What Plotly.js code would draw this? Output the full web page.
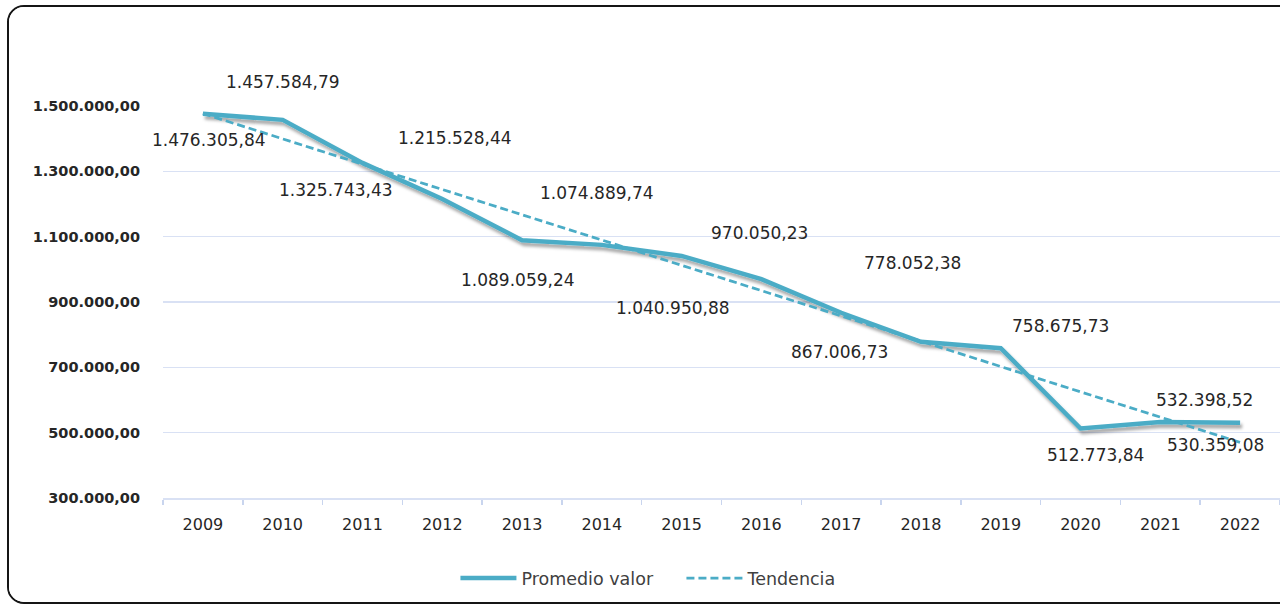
<!DOCTYPE html>
<html>
<head>
<meta charset="utf-8">
<script src="https://cdn.plot.ly/plotly-3.0.1.min.js"></script>
<style>
  html, body { margin: 0; padding: 0; background: #ffffff; overflow: hidden; }
  #frame {
    position: absolute; left: 7px; top: 5px;
    width: 1290px; height: 595px;
    border: 2px solid #151515; border-radius: 17px;
    overflow: hidden; background: #ffffff;
  }
  #chart { width: 1290px; height: 595px; }
</style>
</head>
<body>
<div id="frame"><div id="chart"></div></div>
<script>
// ---- data ----
const years = ['2009','2010','2011','2012','2013','2014','2015','2016','2017','2018','2019','2020','2021','2022'];
const promedioValor = [1476305.84, 1457584.79, 1325743.43, 1215528.44, 1089059.24, 1074889.74, 1040950.88,
                       970050.23, 867006.73, 778052.38, 758675.73, 512773.84, 532398.52, 530359.08];
const trendYears = ['2009', '2022'];
const tendencia = [1476900, 470100];
const yTicks = [300000, 500000, 700000, 900000, 1100000, 1300000, 1500000];
const seriesNames = ['Promedio valor', 'Tendencia'];

// label offsets (pixels) – styling only
const labelDx = [6, 0, -26, 13, -4, -5, -9, -2, -2, -8, 60, 15, 44, -25];
const labelDy = [-26, 38, -27, 61, -40, 52, -52, 46, -39, 79, 22, -27, 22, -22];

function fmt(v) {
  const parts = v.toFixed(2).split('.');
  return parts[0].replace(/\B(?=(\d{3})+(?!\d))/g, '.') + ',' + parts[1];
}

const teal = '#4BACC6';
const gridCol = '#D9E1F4';
const textCol = '#262626';

const traces = [
  {
    x: years, y: promedioValor, type: 'scatter', mode: 'lines',
    name: seriesNames[0],
    line: { color: teal, width: 4.5, shape: 'linear' },
    hoverinfo: 'skip'
  },
  {
    x: trendYears, y: tendencia, type: 'scatter', mode: 'lines',
    name: seriesNames[1],
    line: { color: teal, width: 2.75, dash: '8px,4px' },
    hoverinfo: 'skip'
  }
];

// annotations on a category axis: x given as the category index
const annotations = years.map((yr, i) => ({
  x: years.indexOf(yr), y: promedioValor[i], xref: 'x', yref: 'y',
  text: fmt(promedioValor[i]), showarrow: false,
  xshift: labelDx[i], yshift: labelDy[i],
  font: { family: 'DejaVu Sans', size: 17, color: textCol }
}));

const layout = {
  width: 1290, height: 595,
  paper_bgcolor: '#ffffff', plot_bgcolor: '#ffffff',
  margin: { l: 154, r: 19, t: 99, b: 104, autoexpand: false },
  separators: ',.',
  showlegend: true,
  legend: {
    orientation: 'h', xref: 'container', yref: 'container',
    x: 0.3484, xanchor: 'left', y: 0.04, yanchor: 'middle',
    font: { family: 'DejaVu Sans', size: 17.5, color: '#404040' },
    traceorder: 'normal', itemwidth: 53,
    entrywidth: 158, entrywidthmode: 'pixels'
  },
  xaxis: {
    type: 'category', categoryorder: 'array', categoryarray: years,
    range: [-0.5, years.length - 0.5], autorange: false,
    automargin: false,
    showgrid: false, zeroline: false,
    showline: true, linecolor: gridCol, linewidth: 1.5,
    ticks: 'outside', tickson: 'boundaries', ticklen: 5, tickcolor: '#C9D5EE', tickwidth: 1.5,
    ticklabelstandoff: 11, tickangle: 0,
    tickfont: { family: 'DejaVu Sans', size: 16, color: textCol }
  },
  yaxis: {
    range: [300000, 1500000], autorange: false, automargin: false,
    tickvals: yTicks, tickformat: ',.2f',
    showgrid: true, gridcolor: gridCol, gridwidth: 1.5,
    zeroline: false, showline: false, ticks: '',
    ticklabelstandoff: 22,
    tickfont: { family: 'DejaVu Sans', size: 14.5, color: textCol, weight: 'bold' }
  },
  annotations: annotations
};

Plotly.newPlot('chart', traces, layout, { displayModeBar: false, staticPlot: true }).then(gd => {
  const svg = gd.querySelector('svg.main-svg');
  const ns = 'http://www.w3.org/2000/svg';
  let defs = svg.querySelector('defs');
  if (!defs) { defs = document.createElementNS(ns, 'defs'); svg.insertBefore(defs, svg.firstChild); }
  const filt = document.createElementNS(ns, 'filter');
  filt.setAttribute('id', 'lineShadow');
  filt.setAttribute('x', '-10%'); filt.setAttribute('y', '-10%');
  filt.setAttribute('width', '120%'); filt.setAttribute('height', '130%');
  const ds = document.createElementNS(ns, 'feDropShadow');
  ds.setAttribute('dx', '2'); ds.setAttribute('dy', '3.5');
  ds.setAttribute('stdDeviation', '1.6');
  ds.setAttribute('flood-color', '#000000');
  ds.setAttribute('flood-opacity', '0.35');
  filt.appendChild(ds);
  defs.appendChild(filt);
  const tr = gd.querySelectorAll('.scatterlayer .trace');
  if (tr[0]) {
    tr[0].querySelectorAll('path.js-line').forEach(p => p.setAttribute('filter', 'url(#lineShadow)'));
  }
  // longer legend line samples, as in the reference
  gd.querySelectorAll('.legend .legendlines path').forEach(p => p.setAttribute('d', 'M2,0h56'));
});
</script>
</body>
</html>
